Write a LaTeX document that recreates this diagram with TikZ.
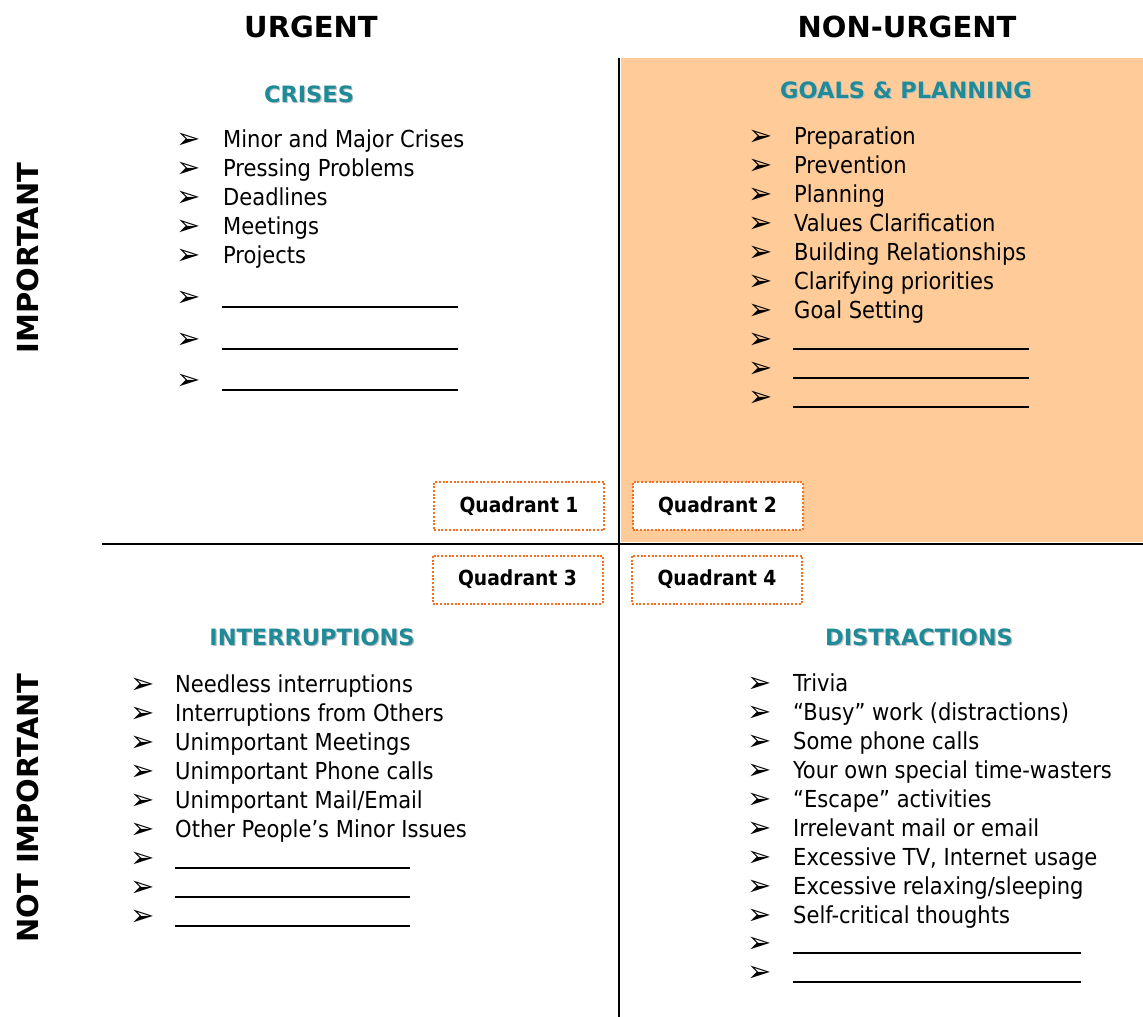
\documentclass[tikz,border=0pt]{standalone}
\usepackage{fontspec}
\setmainfont{DejaVu Sans}
\newfontfamily\tahomalike{DejaVu Sans Condensed}
\usepackage{tikz}
\usetikzlibrary{positioning}
\definecolor{headteal}{RGB}{31,139,153}
\definecolor{planfill}{RGB}{255,204,153}
\definecolor{quadedge}{RGB}{242,112,32}
\newcommand{\bul}{\symbol{"27A2}}
\newcommand{\shadowed}[1]{\makebox[0pt][l]{\hspace{1.2pt}\raisebox{-1.2pt}{\textcolor{black!25}{#1}}}#1}

\tikzset{
	axisline/.style={line width=2.4pt},
	bigtitle/.style={font=\fontsize{29}{34}\selectfont\bfseries, anchor=base},
	sidetitle/.style={font=\fontsize{29}{34}\selectfont\bfseries, rotate=90},
	quadtitle/.style={font=\fontsize{22.5}{27}\selectfont\bfseries, text=headteal, anchor=base},
	itemtxt/.style={font=\tahomalike\fontsize{23.4}{28}\selectfont, anchor=base west, inner sep=0pt},
	arrowbul/.style={font=\fontsize{29}{32}\selectfont, anchor=west, inner sep=0pt, yshift=-3pt},
	blankline/.style={anchor=west, inner sep=0pt},
	quadbox/.style={draw=quadedge, line width=2pt, dash pattern=on 2pt off 1.7pt, fill=white,
		minimum width=170pt, minimum height=48pt, inner sep=0pt,
		font=\tahomalike\bfseries\fontsize{20.8}{24}\selectfont}
}

\begin{document}
\begin{tikzpicture}[x=1pt,y=-1pt]
		
		\useasboundingbox (0,0) rectangle (1143,1017);
		\fill[planfill] (621,58) rectangle (1143,542);
		\coordinate (vtop) at (619,58);
		\coordinate (vbot) at (619,1017);
		\coordinate (hleft) at (102,544);
		\coordinate (hright) at (1143,544);
		\draw[axisline] (vtop) -- (vbot);
		\draw[axisline] (hleft) -- (hright);
		
		\node[bigtitle] (urgent) at (311,37) {URGENT};
		\node[bigtitle] (nonurgent) at (907,37) {NON-URGENT};
		\node[sidetitle] (important) at (28,258) {IMPORTANT};
		\node[sidetitle] (notimportant) at (28,808) {NOT IMPORTANT};
		
		\node[quadtitle] (crises) at (309,102) {\shadowed{CRISES}};
		\node[quadtitle] (goals) at (906,98) {\shadowed{GOALS \& PLANNING}};
		\node[quadtitle] (interrupt) at (312,645) {\shadowed{INTERRUPTIONS}};
		\node[quadtitle] (distract) at (919,645) {\shadowed{DISTRACTIONS}};
		
		\node[quadbox] (quad1) at (519,506) {Quadrant 1};
		\node[quadbox] (quad2) at (717.5,506) {Quadrant 2};
		\node[quadbox] (quad3) at (517.5,579.5) {Quadrant 3};
		\node[quadbox] (quad4) at (717,579.5) {Quadrant 4};
		
		% quadrant 1
		\foreach \txt [count=\i] in {Minor and Major Crises, Pressing Problems, Deadlines, Meetings, Projects}{
			\node[arrowbul] (crisisbul\i) at (176,109+29*\i) {\bul};
			\node[itemtxt] (crisis\i) at (223,118+29*\i) {\txt};
		}
		\foreach \y [count=\i] in {296,338,379}{
			\node[arrowbul] (crisisblankbul\i) at (176,\y) {\bul};
			\node[blankline] (crisisblank\i) at (222,\y+11) {\rule{236pt}{2pt}};
		}
		
		% quadrant 2
		\foreach \txt [count=\i] in {Preparation, Prevention, Planning, Values Clarification, Building Relationships, Clarifying priorities, Goal Setting}{
			\node[arrowbul] (goalbul\i) at (748,106+29*\i) {\bul};
			\node[itemtxt] (goal\i) at (794,115+29*\i) {\txt};
		}
		\foreach \y [count=\i] in {338,367,396}{
			\node[arrowbul] (goalblankbul\i) at (748,\y) {\bul};
			\node[blankline] (goalblank\i) at (793,\y+11) {\rule{236pt}{2pt}};
		}
		
		% quadrant 3
		\foreach \txt [count=\i] in {Needless interruptions, Interruptions from Others, Unimportant Meetings, Unimportant Phone calls, Unimportant Mail/Email, Other People’s Minor Issues}{
			\node[arrowbul] (interbul\i) at (130,654+29*\i) {\bul};
			\node[itemtxt] (inter\i) at (175,663+29*\i) {\txt};
		}
		\foreach \y [count=\i] in {857,886,915}{
			\node[arrowbul] (interblankbul\i) at (130,\y) {\bul};
			\node[blankline] (interblank\i) at (175,\y+11) {\rule{235pt}{2pt}};
		}
		
		% quadrant 4
		\foreach \txt [count=\i] in {Trivia, “Busy” work (distractions), Some phone calls, Your own special time-wasters, “Escape” activities, Irrelevant mail or email, {Excessive TV, Internet usage}, Excessive relaxing/sleeping, Self-critical thoughts}{
			\node[arrowbul] (distbul\i) at (747,653+29*\i) {\bul};
			\node[itemtxt] (dist\i) at (793,662+29*\i) {\txt};
		}
		\foreach \y [count=\i] in {942,971}{
			\node[arrowbul] (distblankbul\i) at (747,\y) {\bul};
			\node[blankline] (distblank\i) at (793,\y+11) {\rule{288pt}{2pt}};
		}
		
\end{tikzpicture}
\end{document}
